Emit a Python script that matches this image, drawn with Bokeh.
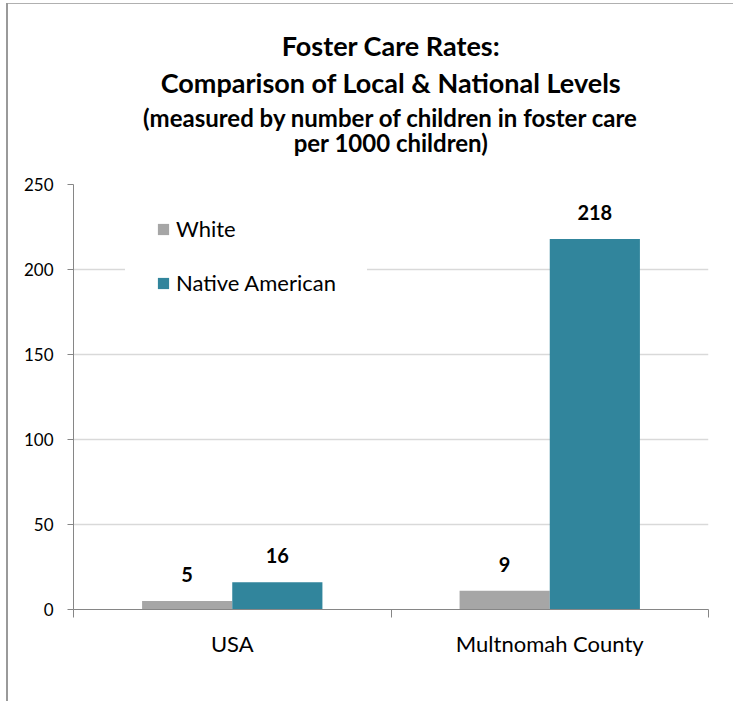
from bokeh.plotting import figure
from bokeh.models import (Range1d, FixedTicker, ColumnDataSource, LabelSet, Title,
                          Legend, LegendItem)
from bokeh.core.properties import value
from bokeh.embed import file_html
from bokeh.resources import INLINE

# ---- data ----
categories = ["USA", "Multnomah County"]
series_names = ["White", "Native American"]
white = [5, 11]
native = [16, 218]
white_labels = ["5", "9"]
native_labels = ["16", "218"]
y_ticks = [0, 50, 100, 150, 200, 250]
title_lines = ["Foster Care Rates:",
               "Comparison of Local & National Levels",
               "(measured by number of children in foster care",
               "per 1000 children)"]

WHITE_C = "#a6a6a6"
NATIVE_C = "#31859c"
AXIS_C = "#868686"
GRID_C = "#d9d9d9"
FONT = "Lato"

bar_w = 0.284
idx = list(range(len(categories)))
x_white = [i + 0.5 - bar_w / 2 for i in idx]
x_native = [i + 0.5 + bar_w / 2 for i in idx]

src_w = ColumnDataSource(dict(x=x_white, top=white, lab=white_labels))
src_n = ColumnDataSource(dict(x=x_native, top=native, lab=native_labels))

p = figure(width=733, height=701, output_backend="svg", toolbar_location=None,
           x_range=Range1d(0, len(categories)), y_range=Range1d(0, 250),
           min_border_left=73, min_border_right=25, min_border_top=184,
           min_border_bottom=92)
p.outline_line_color = None
p.background_fill_color = "white"
p.border_fill_color = None
p.styles = {"background": "linear-gradient(#9a9a9a,#9a9a9a) 6px 3px / 2px 100% no-repeat, "
                          "linear-gradient(#b0b0b0,#b0b0b0) 6px 3px / 100% 1px no-repeat, white"}

rw = p.vbar(x="x", top="top", width=bar_w, source=src_w, color=WHITE_C, line_color=None)
rn = p.vbar(x="x", top="top", width=bar_w, source=src_n, color=NATIVE_C, line_color=None)

# y axis
yax = p.yaxis[0]
yax.ticker = FixedTicker(ticks=y_ticks)
yax.axis_line_color = AXIS_C
yax.major_tick_line_color = AXIS_C
yax.major_tick_out = 6
yax.major_tick_in = 0
yax.minor_tick_line_color = None
yax.major_label_text_font = FONT
yax.major_label_text_font_size = "17px"
yax.major_label_text_color = "#000000"
yax.major_label_standoff = 14

# x axis: labels at category centers, ticks at boundaries (minor)
xax = p.xaxis[0]
xax.ticker = FixedTicker(ticks=[i + 0.5 for i in idx],
                         minor_ticks=list(range(len(categories) + 1)))
xax.major_label_overrides = {i + 0.5: c for i, c in zip(idx, categories)}
xax.axis_line_color = AXIS_C
xax.major_tick_line_color = None
xax.major_tick_out = 0
xax.major_tick_in = 0
xax.minor_tick_line_color = AXIS_C
xax.minor_tick_out = 8
xax.minor_tick_in = 0
xax.major_label_text_font = FONT
xax.major_label_text_font_size = "22px"
xax.major_label_text_color = "#000000"
xax.major_label_standoff = 12

p.xgrid.grid_line_color = None
p.ygrid.grid_line_color = GRID_C
p.ygrid.grid_line_width = 1.5
p.ygrid.ticker = FixedTicker(ticks=y_ticks)

# data labels
for src in (src_w, src_n):
    p.add_layout(LabelSet(x="x", y="top", text="lab", source=src, y_offset=19,
                          text_align="center", text_baseline="alphabetic",
                          text_font=value(FONT), text_font_style="bold",
                          text_font_size="20px", text_color="#000000"))

# spacer between frame and titles
p.add_layout(Title(text=" ", standoff=25, text_font_size="1px"), "above")

# titles, one per line, nearest the frame first
sizes = ["27px", "27px", "24px", "24px"]
standoffs = [-11.4, 16.2, -13.4, 0]
for t, fs, so in reversed(list(zip(title_lines, sizes, standoffs))):
    p.add_layout(Title(text=t, align="center", standoff=so,
                       text_font=FONT, text_font_style="bold", text_font_size=fs,
                       text_color="#000000"), "above")

legend = Legend(items=[LegendItem(label=series_names[0], renderers=[rw]),
                       LegendItem(label=series_names[1], renderers=[rn])],
                location=(52, 282), orientation="vertical",
                glyph_width=14, glyph_height=14, label_standoff=6,
                label_text_font=FONT, label_text_font_size="22px",
                label_text_color="#000000", padding=30, spacing=27, margin=0,
                border_line_color="white", background_fill_color="white",
                background_fill_alpha=1.0)
p.add_layout(legend)

open("out.html", "w").write(file_html(p, INLINE))
